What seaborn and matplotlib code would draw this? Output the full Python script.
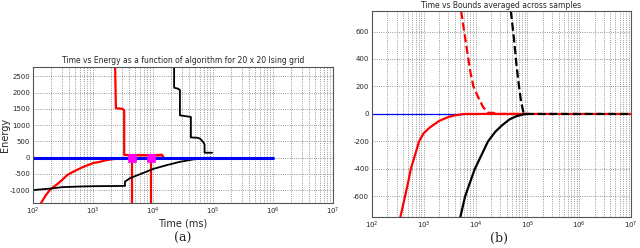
import matplotlib
matplotlib.use("Agg")
import matplotlib.pyplot as plt
import seaborn as sns
import numpy as np

# ---- panel (a): time vs energy, 20 x 20 Ising grid ----
blue_a_t = [100, 1000000]
blue_a_e = [0, 0]

red_low_t = [136, 160, 190, 220, 260, 300, 370, 450, 550, 680, 850, 1000, 1300, 1600, 2000, 2500, 3000, 4000, 5000, 7000, 10000, 14000]
red_low_e = [-1400, -1180, -1000, -900, -800, -700, -540, -450, -370, -290, -220, -170, -130, -85, -55, -35, -20, -10, -5, -2, 0, 0]

red_up_t = [2330, 2400, 2400, 3100, 3300, 3300, 12600, 14000, 15000]
red_up_e = [2780, 1550, 1520, 1500, 1450, 80, 80, 90, 0]

red_drop1_t = [4400, 4400]
red_drop2_t = [9300, 9300]
red_drop_e = [0, -1400]

black_up_t = [22400, 22400, 26000, 28000, 28000, 42600, 42600, 55000, 61000, 70000, 72000, 72000, 96000]
black_up_e = [2780, 2150, 2120, 2080, 1300, 1250, 620, 610, 580, 450, 400, 150, 150]

black_low_t = [100, 200, 300, 600, 1000, 2000, 3400, 3400, 4150, 6100, 10000, 17000, 28000, 47000, 93000]
black_low_e = [-1000, -950, -910, -890, -880, -875, -870, -740, -630, -510, -350, -230, -130, -55, 0]

mark_t = [4400, 9300]
mark_e = [0, 0]

# ---- panel (b): time vs bounds averaged across samples ----
blue_b_t = [100, 6000]
blue_b_e = [0, 0]

red_lb_t = [355, 437, 500, 565, 680, 815, 1000, 1300, 2000, 3000, 4000, 6000, 100000]
red_lb_e = [-750, -600, -500, -400, -300, -200, -140, -100, -50, -22, -10, 0, 0]

red_ub_t = [5270, 6500, 8000, 9100, 11000, 14000, 17400, 22000, 25000, 10000000]
red_ub_e = [750, 520, 300, 200, 130, 50, 8, 8, 0, 0]

black_lb_t = [5100, 6300, 7800, 9700, 13000, 17400, 24000, 32000, 45000, 60000, 80000, 93000]
black_lb_e = [-750, -600, -500, -400, -300, -200, -130, -85, -40, -18, -5, 0]

black_ub_t = [48000, 55000, 62000, 69000, 75000, 85000, 10000000]
black_ub_e = [750, 550, 350, 200, 100, 0, 0]

sns.set_style("white")
plt.rcParams["font.family"] = ["DejaVu Sans"]
plt.rcParams["axes.unicode_minus"] = False

fig = plt.figure(figsize=(6.4, 2.48), dpi=100)
ax1 = fig.add_axes([0.0516, 0.181, 0.469, 0.548])
ax2 = fig.add_axes([0.581, 0.125, 0.405, 0.831])


def style_ax(ax, ylim, yticks):
    ax.set_xscale("log")
    ax.set_xlim(100, 10000000)
    ax.set_ylim(*ylim)
    ax.set_yticks(yticks)
    ax.set_xticks([1e2, 1e3, 1e4, 1e5, 1e6, 1e7])
    ax.grid(True, which="major", axis="both", linestyle=":", color="#777777", linewidth=0.6)
    ax.grid(True, which="minor", axis="x", linestyle=":", color="#777777", linewidth=0.6)
    ax.tick_params(axis="both", which="major", labelsize=5, length=2, direction="in", pad=2)
    ax.tick_params(axis="x", which="minor", length=1, direction="in")
    for s in ax.spines.values():
        s.set_color("#555555")
        s.set_linewidth(0.8)


def line(ax, t, e, color, lw, ls="-"):
    sns.lineplot(x=t, y=e, ax=ax, color=color, linewidth=lw, linestyle=ls,
                 sort=False, estimator=None)


line(ax1, red_low_t, red_low_e, "red", 1.6)
line(ax1, red_up_t, red_up_e, "red", 1.6)
line(ax1, red_drop1_t, red_drop_e, "red", 1.6)
line(ax1, red_drop2_t, red_drop_e, "red", 1.6)
line(ax1, black_up_t, black_up_e, "black", 1.3)
line(ax1, black_low_t, black_low_e, "black", 1.3)
line(ax1, blue_a_t, blue_a_e, "blue", 2.2)
sns.scatterplot(x=mark_t, y=mark_e, ax=ax1, color="magenta", marker="s", s=40, edgecolor="magenta", zorder=5)
style_ax(ax1, (-1400, 2780), [-1000, -500, 0, 500, 1000, 1500, 2000, 2500])
ax1.set_title("Time vs Energy as a function of algorithm for 20 x 20 Ising grid", fontsize=5.5, pad=3)
ax1.set_xlabel("Time (ms)", fontsize=7, labelpad=1)
ax1.set_ylabel("Energy", fontsize=7)
ax1.yaxis.set_label_coords(-0.078, 0.5)

line(ax2, blue_b_t, blue_b_e, "blue", 0.9)
line(ax2, red_lb_t, red_lb_e, "red", 1.6)
line(ax2, red_ub_t, red_ub_e, "red", 1.6, "--")
line(ax2, black_lb_t, black_lb_e, "black", 1.6)
line(ax2, black_ub_t, black_ub_e, "black", 1.6, "--")
style_ax(ax2, (-750, 750), [-600, -400, -200, 0, 200, 400, 600])
ax2.set_title("Time vs Bounds averaged across samples", fontsize=5.5, pad=2)
ax2.set_xlabel("")
ax2.set_ylabel("")

fig.text(0.285, 0.04, "(a)", fontsize=9, family="DejaVu Serif", ha="center", va="center")
fig.text(0.78, 0.04, "(b)", fontsize=9, family="DejaVu Serif", ha="center", va="center")

fig.savefig("out.png", dpi=100)
